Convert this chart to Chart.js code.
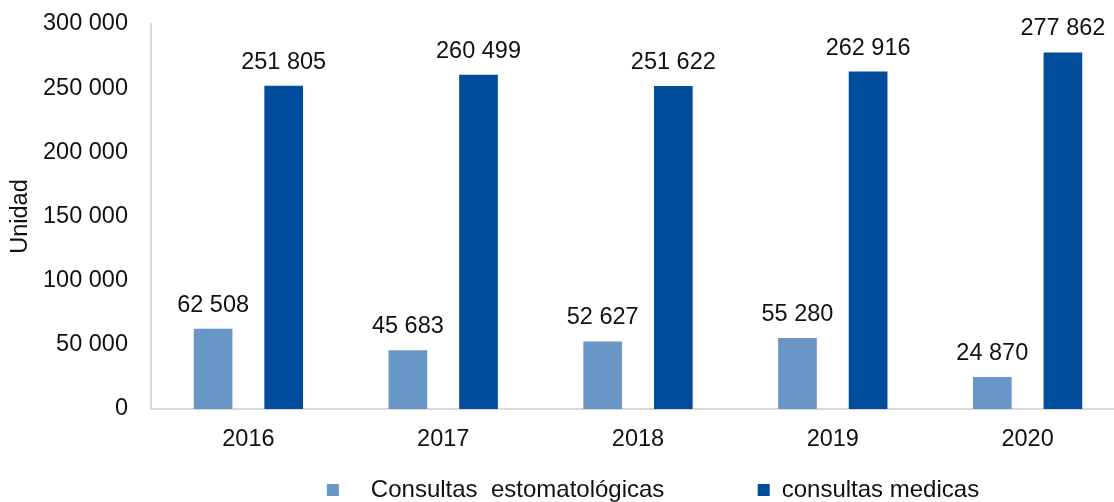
<!DOCTYPE html>
<html>
<head>
<meta charset="utf-8">
<script src="https://cdn.jsdelivr.net/npm/chart.js@4/dist/chart.umd.min.js"></script>
<style>
  html, body { margin: 0; padding: 0; background: #fff; overflow: hidden; }
  #wrap { width: 1125px; height: 502px; position: relative; }
</style>
</head>
<body>
<div id="wrap"><canvas id="consultas"></canvas></div>
<script>
const years = ['2016', '2017', '2018', '2019', '2020'];
const estomatologicas = [62508, 45683, 52627, 55280, 24870];
const medicas = [251805, 260499, 251622, 262916, 277862];

const FONT = "'Liberation Sans', Arial, sans-serif";
const fmt = v => String(v).replace(/\B(?=(\d{3})+(?!\d))/g, ' ');

// numbers above the bars
const barValues = {
    id: 'barValues',
    afterDatasetsDraw(chart) {
        const ctx = chart.ctx;
        ctx.save();
        ctx.font = '23.5px ' + FONT;
        ctx.fillStyle = '#111';
        ctx.textAlign = 'center';
        ctx.textBaseline = 'alphabetic';
        chart.data.datasets.forEach((ds, i) => {
            chart.getDatasetMeta(i).data.forEach((bar, j) => {
                ctx.fillText(fmt(ds.data[j]), bar.x, bar.y - 17);
            });
        });
        ctx.restore();
    }
};

// legend sits a little right of the plot centre in the original
const nudgeLegend = {
    id: 'nudgeLegend',
    afterLayout(chart) {
        if (chart.legend) {
            chart.legend.left += 15;
            chart.legend.right += 15;
        }
    }
};

// spaces in the first label give the gaps seen in the legend
const pad = ' '.repeat(14);

new Chart('consultas', {
    type: 'bar',
    data: {
        labels: years,
        datasets: [
            {
                label: '   Consultas  estomatológicas' + pad,
                data: estomatologicas,
                backgroundColor: '#6896c6',
                borderWidth: 0,
                categoryPercentage: 0.725,
                barPercentage: 0.548,
            },
            {
                label: 'consultas medicas',
                data: medicas,
                backgroundColor: '#024c9c',
                borderWidth: 0,
                categoryPercentage: 0.725,
                barPercentage: 0.548,
            }
        ]
    },
    plugins: [barValues, nudgeLegend],
    options: {
        responsive: true,
        maintainAspectRatio: false,
        animation: false,
        layout: { padding: { top: 24, left: 0, right: 0, bottom: -10 } },
        plugins: {
            tooltip: { enabled: false },
            legend: {
                position: 'bottom',
                fullSize: false,
                labels: {
                    font: { family: FONT, size: 24 },
                    color: '#111',
                    boxWidth: 12,
                    boxHeight: 12,
                    padding: 0,
                }
            }
        },
        scales: {
            x: {
                afterFit: scale => { scale.height = 69; },
                grid: { display: false, drawTicks: false },
                border: { display: true, color: '#d9d9d9', width: 2 },
                ticks: { font: { family: FONT, size: 23.5 }, color: '#111', padding: 16 }
            },
            y: {
                min: 0,
                max: 300000,
                afterFit: scale => {
                    scale.width = 151;
                    scale.paddingTop = 0;
                    scale.paddingBottom = 0;
                },
                grid: { display: false, drawTicks: false },
                border: { display: true, color: '#d9d9d9', width: 2 },
                ticks: {
                    stepSize: 50000,
                    font: { family: FONT, size: 23.5 },
                    color: '#111',
                    padding: 23,
                    callback: v => fmt(v)
                },
                title: {
                    display: true,
                    text: 'Unidad',
                    font: { family: FONT, size: 23.5 },
                    color: '#111',
                    padding: { top: 6, bottom: 0 }
                }
            }
        }
    }
});
</script>
</body>
</html>
